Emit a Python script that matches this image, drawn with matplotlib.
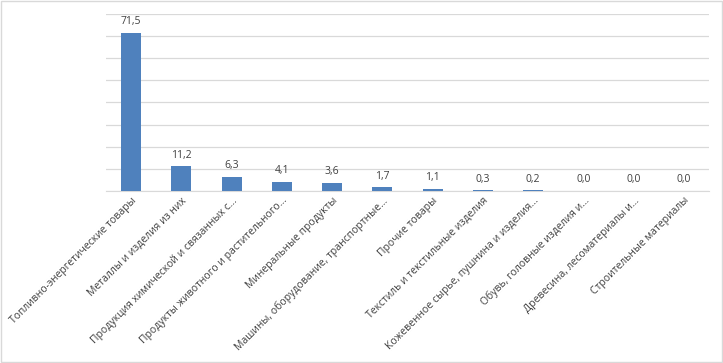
import numpy as np
import matplotlib.pyplot as plt
from matplotlib.patches import Rectangle

categories = [
    "Топливно-энергетические товары",
    "Металлы и изделия из них",
    "Продукция химической и связанных с...",
    "Продукты животного и растительного...",
    "Минеральные продукты",
    "Машины, оборудование, транспортные...",
    "Прочие товары",
    "Текстиль и текстильные изделия",
    "Кожевенное сырье, пушнина и изделия...",
    "Обувь, головные изделия и...",
    "Древесина, лесоматериалы и...",
    "Строительные материалы",
]
values = [71.5, 11.2, 6.3, 4.1, 3.6, 1.7, 1.1, 0.3, 0.2, 0.0, 0.0, 0.0]

plt.rcParams['font.family'] = ['Open Sans', 'DejaVu Sans']

fig = plt.figure(figsize=(7.23, 3.63), dpi=100)
ax = fig.add_axes([0.1466, 0.474, 0.834, 0.4874])

x = np.arange(len(categories))
bars = ax.bar(x, values, width=0.4, color="#4F81BD", zorder=3)

for xi, v in zip(x, values):
    ax.annotate(f"{v:.1f}".replace(".", ","), (xi, v), xytext=(0, 4),
                textcoords="offset points", ha="center", va="bottom",
                fontsize=7.5, color="#404040")

ax.set_xlim(-0.5, len(categories) - 0.5)
ax.set_ylim(0, 80)
ax.set_yticks(np.arange(0, 81, 10))
ax.yaxis.grid(True, color="#D9D9D9", linewidth=0.9, zorder=0)
ax.tick_params(axis="y", left=False, labelleft=False)
ax.tick_params(axis="x", length=0, pad=3)
ax.set_xticks(x)
ax.set_xticklabels(categories, rotation=45, ha="right", rotation_mode="anchor",
                   fontsize=7.5, color="#404040")
for lbl in ax.get_xticklabels():
    lbl.set_x(lbl.get_position()[0])
for s in ["top", "right", "left"]:
    ax.spines[s].set_visible(False)
ax.spines["bottom"].set_color("#D9D9D9")

fig.patches.append(Rectangle((0.002, 0.003), 0.996, 0.994, transform=fig.transFigure,
                             fill=False, edgecolor="#D9D9D9", linewidth=1))

fig.savefig("out.png", dpi=100)
